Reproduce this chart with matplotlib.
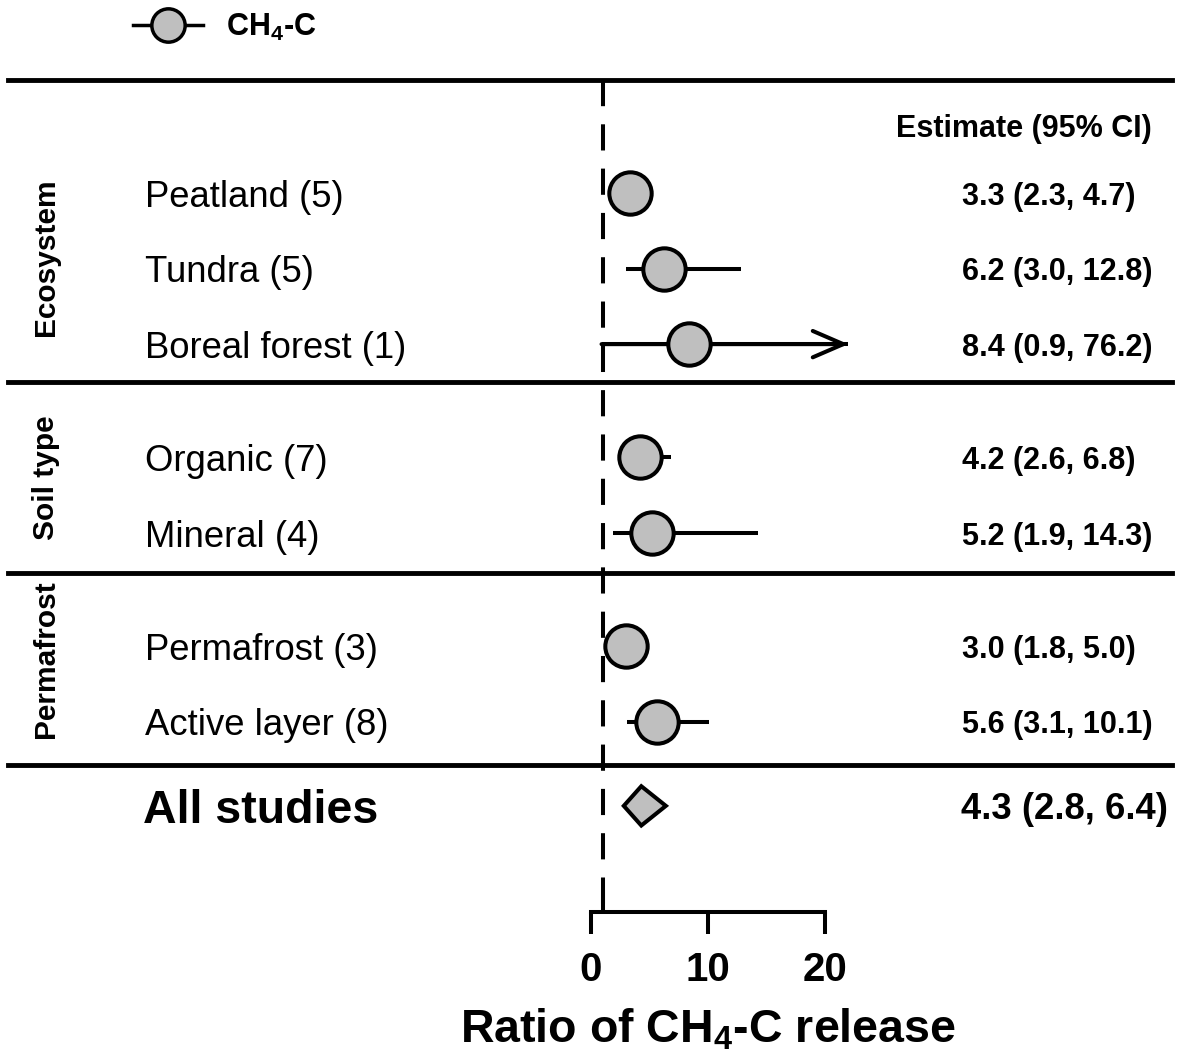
import matplotlib
matplotlib.use('Agg')
import matplotlib.pyplot as plt
from matplotlib.lines import Line2D

plt.rcParams['font.family'] = ['Liberation Sans', 'DejaVu Sans']
plt.rcParams['mathtext.fontset'] = 'custom'
plt.rcParams['mathtext.rm'] = 'Liberation Sans:bold'
plt.rcParams['mathtext.it'] = 'Liberation Sans:bold:italic'
plt.rcParams['mathtext.bf'] = 'Liberation Sans:bold'

# ---- data ----
labels   = ['Peatland (5)', 'Tundra (5)', 'Boreal forest (1)',
            'Organic (7)', 'Mineral (4)',
            'Permafrost (3)', 'Active layer (8)']
estimate = [3.3, 6.2, 8.4, 4.2, 5.2, 3.0, 5.6]
ci_low   = [2.3, 3.0, 0.9, 2.6, 1.9, 1.8, 3.1]
ci_high  = [4.7, 12.8, 76.2, 6.8, 14.3, 5.0, 10.1]
groups   = ['Ecosystem', 'Soil type', 'Permafrost']
all_label = 'All studies'
all_est, all_low, all_high = 4.3, 2.8, 6.4
xticks = [0, 10, 20]

# ---- layout (row units, 0 = first row, grows downward) ----
rows      = [0, 1, 2, 3.5, 4.5, 6, 7]
all_row   = 8.11
group_y   = [0.85, 3.77, 6.17]
seps      = [-1.495, 2.5, 5.03, 7.57]
head_row  = -0.887
axis_row  = 9.51
xlab_row  = 10.77
xclip     = 22.0
gray      = '#bfbfbf'
lw        = 2.9

W, H = 1178, 1053
fig = plt.figure(figsize=(W / 100, H / 100), dpi=100)
ax = fig.add_axes([0, 0, 1, 1])
px_unit = 11.7
x0 = -591 / px_unit
ax.set_xlim(x0, x0 + W / px_unit)
row_px = 75.57
ax.set_ylim((H - 193) / row_px, -193 / row_px)

for s in ['top', 'left', 'right']:
    ax.spines[s].set_visible(False)
ax.spines['bottom'].set_position(('data', axis_row))
ax.spines['bottom'].set_bounds(0, 20)
ax.spines['bottom'].set_linewidth(lw)
ax.set_yticks([])
ax.set_xticks(xticks)
ax.set_xticklabels([str(t) for t in xticks], fontsize=29, fontweight='bold')
ax.set_xticks([1], minor=True)
ax.tick_params(axis='x', which='major', direction='out', length=16, width=lw, pad=12)
ax.tick_params(axis='x', which='minor', direction='in', length=16, width=lw)
ax.set_xlabel('Ratio of CH$_4$-C release', fontsize=33.5, fontweight='bold')
ax.xaxis.set_label_coords(10, xlab_row, transform=ax.transData)

# reference line at ratio 1
ax.plot([1, 1], [seps[0], axis_row], color='black', lw=lw,
        ls=(0, (6.5, 4.5)), zorder=1)

# separators
for y in seps:
    ax.axhline(y, xmin=8 / W, xmax=1172 / W, color='black', lw=3.5)

# estimates with CI
hi_plot = [min(h, xclip) for h in ci_high]
xerr = [[e - l for e, l in zip(estimate, ci_low)],
        [h - e for e, h in zip(estimate, hi_plot)]]
ax.errorbar(estimate, rows, xerr=xerr, fmt='o', ms=30.5, mfc=gray, mec='black',
            mew=lw, ecolor='black', elinewidth=lw, capsize=0, zorder=3)
for e, l, h, r in zip(estimate, ci_low, ci_high, rows):
    if h > xclip:
        ax.annotate('', xy=(xclip, r), xytext=(l, r), zorder=2,
                    arrowprops=dict(arrowstyle='->,head_length=2.2,head_width=0.95',
                                    lw=lw, color='black', shrinkA=0, shrinkB=0,
                                    mutation_scale=10))

# overall diamond
dh = 0.26
ax.fill([all_low, all_est, all_high, all_est],
        [all_row, all_row - dh, all_row, all_row + dh],
        facecolor=gray, edgecolor='black', lw=lw, zorder=3)

# text columns
tr = ax.get_yaxis_transform()
for lab, r in zip(labels, rows):
    ax.text(145 / W, r, lab, transform=tr, fontsize=26.3, ha='left', va='center_baseline')
ax.text(143 / W, all_row, all_label, transform=tr, fontsize=33.5, fontweight='bold',
        ha='left', va='center_baseline')

ax.text(1152 / W, head_row, 'Estimate (95% CI)', transform=tr, fontsize=22,
        fontweight='bold', ha='right', va='center_baseline')
for e, l, h, r in zip(estimate, ci_low, ci_high, rows):
    ax.text(962 / W, r, '%.1f (%.1f, %.1f)' % (e, l, h), transform=tr, fontsize=22,
            fontweight='bold', ha='left', va='center_baseline')
ax.text(961 / W, all_row, '%.1f (%.1f, %.1f)' % (all_est, all_low, all_high),
        transform=tr, fontsize=26.3, fontweight='bold', ha='left', va='center_baseline')

for g, y in zip(groups, group_y):
    ax.text(46 / W, y, g, transform=tr, fontsize=21.5, fontweight='bold',
            rotation=90, ha='center', va='center')

# legend
h = Line2D([], [], color='black', lw=2.5, marker='o', ms=24, mfc=gray,
           mec='black', mew=2.5)
ax.legend([h], ['CH$_4$-C'], loc='center left', bbox_to_anchor=(133 / W, 1 - 27 / H),
          frameon=False, borderpad=0, borderaxespad=0, handlelength=2.3,
          handletextpad=0.75, prop={'size': 22, 'weight': 'bold'})

fig.savefig('out.png', dpi=100)
